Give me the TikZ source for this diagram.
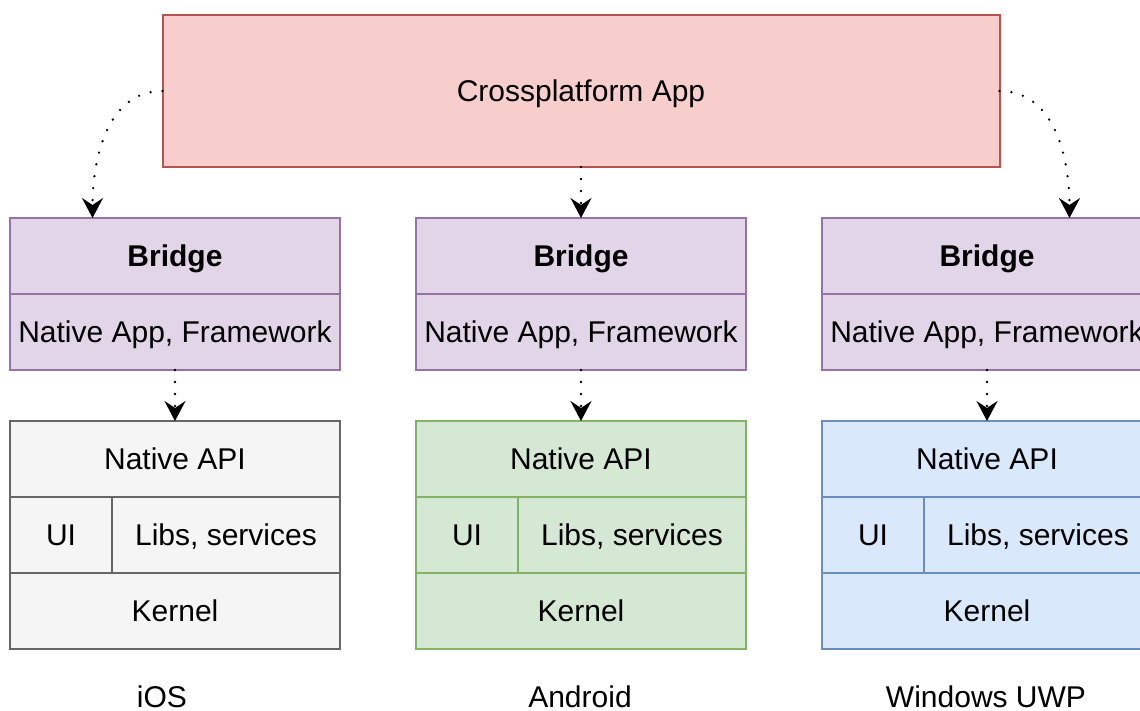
\documentclass[tikz,border=0pt]{standalone}
\usepackage{fontspec}
\setmainfont{Liberation Sans}
\usetikzlibrary{arrows.meta}

\definecolor{appfill}{HTML}{F8CECC}
\definecolor{appline}{HTML}{B85450}
\definecolor{brfill}{HTML}{E1D5E7}
\definecolor{brline}{HTML}{9673A6}
\definecolor{iosfill}{HTML}{F5F5F5}
\definecolor{iosline}{HTML}{666666}
\definecolor{andfill}{HTML}{D5E8D4}
\definecolor{andline}{HTML}{82B366}
\definecolor{uwpfill}{HTML}{DAE8FC}
\definecolor{uwpline}{HTML}{6C8EBF}

\begin{document}
\begin{tikzpicture}
  [x=1pt,y=-1pt,
   every node/.style={rectangle,inner sep=0pt,outer sep=0pt,
     text height=27pt,text depth=6pt,font=\fontsize{30}{36}\selectfont},
   cell/.style={draw,line width=2pt,minimum width=330pt,minimum height=76pt},
   bridge/.style={cell,fill=brfill,draw=brline},
   ios/.style={cell,fill=iosfill,draw=iosline},
   android/.style={cell,fill=andfill,draw=andline},
   uwp/.style={cell,fill=uwpfill,draw=uwpline},
   oslabel/.style={text height=21pt,text depth=0pt},
   link/.style={line width=2.6pt,line cap=round,dash pattern=on 0pt off 12pt,
     -{Stealth[length=20pt,width=21pt,inset=7pt]}}]
  \useasboundingbox (0,0) rectangle (1140,711);
  \clip (0,0) rectangle (1140,711);

  \node[cell,fill=appfill,draw=appline,minimum width=837pt,minimum height=152pt]
    (app) at (581,91) {Crossplatform App};

  % bridges
  \node[bridge] (br1) at (175,256) {\textbf{Bridge}};
  \node[bridge] (fw1) at (175,332) {Native App, Framework};
  \node[bridge] (br2) at (581,256) {\textbf{Bridge}};
  \node[bridge] (fw2) at (581,332) {Native App, Framework};
  \node[bridge] (br3) at (987,256) {\textbf{Bridge}};
  \node[bridge] (fw3) at (987,332) {Native App, Framework};

  % iOS
  \node[ios] (api1) at (175,459) {Native API};
  \node[ios,minimum width=102pt] (ui1) at (61,535) {UI};
  \node[ios,minimum width=228pt] (libs1) at (226,535) {Libs, services};
  \node[ios] (kern1) at (175,611) {Kernel};

  % Android
  \node[android] (api2) at (581,459) {Native API};
  \node[android,minimum width=102pt] (ui2) at (467,535) {UI};
  \node[android,minimum width=228pt] (libs2) at (632,535) {Libs, services};
  \node[android] (kern2) at (581,611) {Kernel};

  % Windows
  \node[uwp] (api3) at (987,459) {Native API};
  \node[uwp,minimum width=102pt] (ui3) at (873,535) {UI};
  \node[uwp,minimum width=228pt] (libs3) at (1038,535) {Libs, services};
  \node[uwp] (kern3) at (987,611) {Kernel};

  \node[oslabel] (os1) at (162,697) {iOS};
  \node[oslabel] (os2) at (580,697) {Android};
  \node[oslabel] (os3) at (986,697) {Windows UWP};

  \draw[link] (app.west) to[out=180,in=90] ([xshift=82.5pt]br1.north west);
  \draw[link] (app.east) to[out=0,in=90] ([xshift=-82.5pt]br3.north east);
  \draw[link] (app.south) -- (br2.north);
  \foreach \from/\to in {fw1/api1,fw2/api2,fw3/api3}
    \draw[link] (\from.south) -- (\to.north);

\end{tikzpicture}
\end{document}
